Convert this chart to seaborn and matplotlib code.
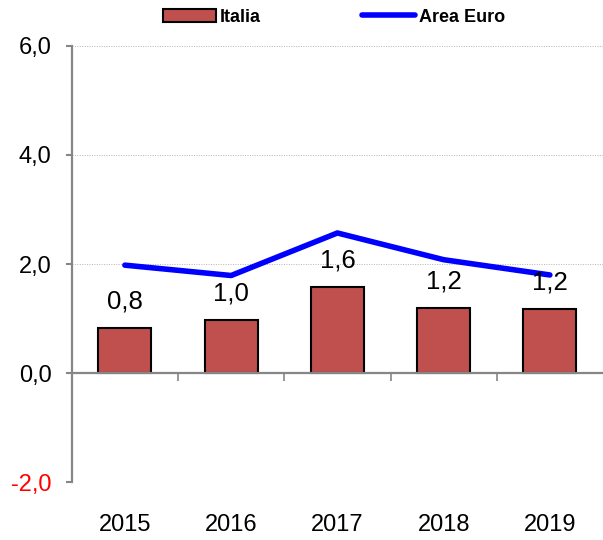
import numpy as np
import pandas as pd
import matplotlib.pyplot as plt
import seaborn as sns
from matplotlib.patches import Patch
from matplotlib.lines import Line2D

# data
years = ["2015", "2016", "2017", "2018", "2019"]
italia = [0.83, 0.98, 1.58, 1.20, 1.18]
area_euro = [1.98, 1.79, 2.57, 2.08, 1.80]
y_ticks = [-2, 0, 2, 4, 6]

sns.set_style("white")
plt.rcParams["font.family"] = ["Liberation Sans", "DejaVu Sans"]
plt.rcParams["text.color"] = "black"

BAR_COLOR = "#C0504D"
LINE_COLOR = "#0000FF"
AXIS_GRAY = "#868686"

fig = plt.figure(figsize=(6.03, 5.40), dpi=100)
ax = fig.add_axes([0.119, 0.107, 0.881, 0.808])

df = pd.DataFrame({"anno": years, "Italia": italia, "Area Euro": area_euro})

sns.barplot(data=df, x="anno", y="Italia", color=BAR_COLOR, width=0.5,
            edgecolor="black", linewidth=1.5, saturation=1, ax=ax, zorder=2)
sns.lineplot(x=np.arange(len(years)), y=df["Area Euro"], color=LINE_COLOR,
             linewidth=4, solid_capstyle="round", ax=ax, zorder=3)

# value labels above the bars
for p, v in zip(ax.patches, italia):
    ax.annotate(f"{v:.1f}".replace(".", ","),
                (p.get_x() + p.get_width() / 2, p.get_height()),
                xytext=(0, 19), textcoords="offset points",
                ha="center", va="center", fontsize=18.5, color="black")

ax.set_xlim(-0.5, 4.5)
ax.set_ylim(-2, 6)
ax.set_xlabel("")
ax.set_ylabel("")

# y axis
ax.set_yticks(y_ticks)
ax.set_yticklabels([f"{v:.1f}".replace(".", ",") for v in y_ticks], fontsize=17)
for lab, v in zip(ax.get_yticklabels(), y_ticks):
    lab.set_color("red" if v < 0 else "black")
ax.tick_params(axis="y", which="major", direction="out", length=4.5, width=1.5,
               color=AXIS_GRAY, pad=10, left=True)
ax.yaxis.grid(True, linestyle=(0, (1, 1.5)), color="#B4B4B4", linewidth=0.7)
ax.xaxis.grid(False)
ax.set_axisbelow(True)

# x axis through zero, labels at the bottom
ax.spines["bottom"].set_position(("data", 0))
for s in ["top", "right"]:
    ax.spines[s].set_visible(False)
for s in ["left", "bottom"]:
    ax.spines[s].set_color(AXIS_GRAY)
    ax.spines[s].set_linewidth(1.6)
ax.tick_params(axis="x", which="major", length=0, labelbottom=False)
ax.set_xticks(np.arange(len(years)) - 0.5, minor=True)
ax.tick_params(axis="x", which="minor", direction="out", length=5.5, width=1.2,
               color=AXIS_GRAY, bottom=True)
for i, yr in enumerate(years):
    ax.text(i, -0.099, yr, transform=ax.get_xaxis_transform(),
            ha="center", va="center", fontsize=17, color="black")

# legend
handles = [Patch(facecolor=BAR_COLOR, edgecolor="black", linewidth=1.5),
           Line2D([0], [0], color=LINE_COLOR, linewidth=4, solid_capstyle="round")]
fig.legend(handles, ["Italia", "Area Euro"], loc="center",
           bbox_to_anchor=(0.554, 0.968), ncol=2, frameon=False,
           prop={"weight": "bold", "size": 13}, handlelength=2.95,
           handletextpad=0.22, columnspacing=5.6)

fig.savefig("out.png", dpi=100)
